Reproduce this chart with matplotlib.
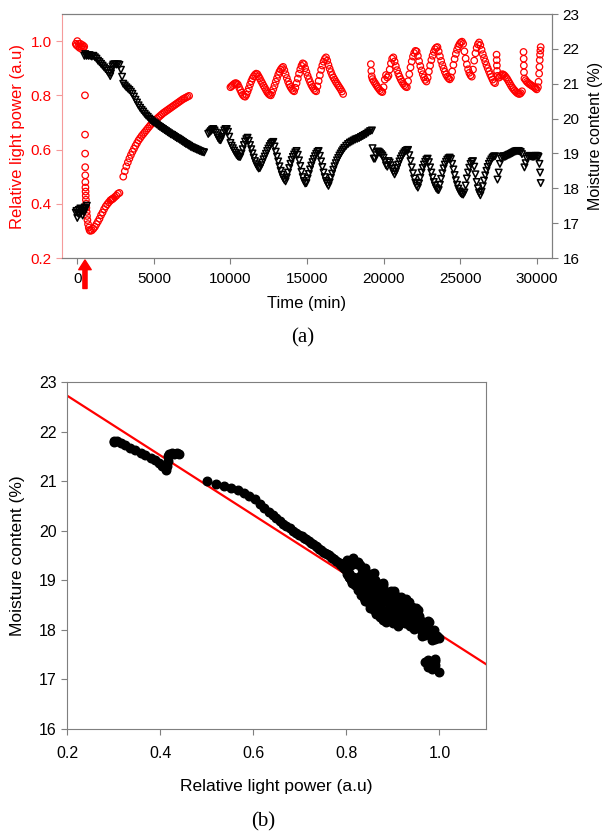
import matplotlib
matplotlib.use("Agg")
import matplotlib.pyplot as plt
import numpy as np

nan = np.nan

# Readings, one block per stretch of the record.
# t_* = time (min), p_* = relative light power (a.u), m_* = moisture content (%)

# before the step change (dry sample)
t_dry = [-100, -50, 0, 50, 100, 150, 200, 250, 300, 350, 400, 450]
p_dry = [0.99, 0.985, 1.00, 0.98, 0.99, 0.975, 0.99, 0.98, 0.97, 0.985, 0.975, 0.98]
m_dry = [17.30, 17.35, 17.15, 17.28, 17.38, 17.25, 17.42, 17.30, 17.35, 17.22, 17.40, 17.32]

# the step (light power drops, moisture jumps)
t_step = [460, 480, 500, 505, 510, 515, 520, 520, 525, 530, 540, 550, 560, 560,
          575, 590, 590, 610, 620, 630, 660, 660, 700, 730, 750, 790, 800]
p_step = [nan, nan, 0.80, 0.655, 0.585, 0.535, 0.505, nan, 0.48, 0.46, 0.445, 0.43, 0.415, nan,
          0.40, 0.385, nan, 0.37, nan, 0.355, 0.34, nan, 0.325, nan, 0.312, nan, 0.303]
m_step = [21.80, 17.45, nan, nan, nan, nan, nan, 21.85, nan, nan, nan, nan, nan, 17.42,
          nan, nan, 21.80, nan, 17.50, nan, nan, 21.82, nan, 21.80, nan, 21.82, nan]

t_wet = [850, 950, 1050, 1150, 1250, 1350, 1450, 1550, 1650, 1750, 1850, 1950,
         2050, 2150, 2200, 2250, 2300, 2350, 2450, 2550, 2650, 2750, 2850, 2925]
p_wet = [0.300, 0.302, 0.308, 0.315, 0.325, 0.335, 0.345, 0.358, 0.368, 0.380, 0.390, 0.398,
         0.405, 0.412, 0.414, 0.416, 0.418, 0.420, 0.425, 0.430, 0.437, 0.440, nan, nan]
m_wet = [21.80, 21.78, 21.80, 21.76, 21.72, 21.66, 21.62, 21.57, 21.52, 21.47, 21.42, 21.37,
         21.30, 21.22, 21.30, 21.40, 21.50, 21.55, 21.56, 21.55, 21.56, 21.54, 21.40, 21.20]

# drying
t_dryout = [3000, 3100, 3200, 3300, 3400, 3500, 3600, 3700, 3800, 3900, 4000,
            4100, 4200, 4300, 4400, 4500, 4600, 4700, 4800, 4900, 5000, 5100,
            5200, 5300, 5400, 5500, 5600, 5700, 5800, 5900, 6000, 6100, 6200,
            6300, 6400, 6500, 6600, 6700, 6800, 6900, 7000, 7100, 7200, 7300]
p_dryout = [0.500, 0.520, 0.538, 0.553, 0.567, 0.580, 0.592, 0.603, 0.614, 0.624, 0.634,
            0.642, 0.650, 0.657, 0.664, 0.671, 0.678, 0.685, 0.692, 0.698, 0.704, 0.709,
            0.714, 0.719, 0.724, 0.729, 0.734, 0.738, 0.742, 0.746, 0.750, 0.754, 0.758,
            0.762, 0.766, 0.770, 0.774, 0.778, 0.782, 0.786, 0.789, 0.792, 0.795, 0.798]
m_dryout = [21.00, 20.95, 20.90, 20.86, 20.82, 20.77, 20.71, 20.63, 20.54, 20.46, 20.38,
            20.31, 20.25, 20.20, 20.14, 20.09, 20.05, 20.00, 19.96, 19.92, 19.89, 19.86,
            19.83, 19.79, 19.76, 19.73, 19.70, 19.67, 19.64, 19.61, 19.58, 19.55, 19.53,
            19.50, 19.47, 19.44, 19.42, 19.39, 19.36, 19.33, 19.30, 19.27, 19.25, 19.22]

# moisture only (no light reading)
t_gap1 = [7400, 7500, 7600, 7700, 7800, 7900, 8000, 8100, 8200, 8280,
          8550, 8640, 8720, 8800, 8880, 8960, 9040, 9120, 9200, 9280,
          9360, 9440, 9520, 9600, 9680, 9760, 9840, 9920]
m_gap1 = [19.19, 19.17, 19.15, 19.13, 19.11, 19.09, 19.07, 19.05, 19.04, 19.03,
          19.56, 19.60, 19.64, 19.68, 19.70, 19.66, 19.60, 19.52, 19.44, 19.39,
          19.38, 19.47, 19.58, 19.66, 19.70, 19.70, 19.62, 19.48]
p_gap1 = [nan] * len(t_gap1)

# first cycling period
t_cyc1 = [10000, 10080, 10160, 10240, 10320, 10400, 10480, 10560, 10640, 10720,
          10800, 10880, 10960, 11040, 11120, 11200, 11280, 11360, 11440, 11520,
          11600, 11680, 11760, 11840, 11920, 12000, 12080, 12160, 12240, 12320,
          12400, 12480, 12560, 12640, 12720, 12800, 12880, 12960, 13040, 13120,
          13200, 13280, 13360, 13440, 13520, 13600, 13680, 13760, 13840, 13920,
          14000, 14080, 14160, 14240, 14320, 14400, 14480, 14560, 14640, 14720,
          14800, 14880, 14960, 15040, 15120, 15200, 15280, 15360, 15440, 15520,
          15600, 15680, 15760, 15840, 15920, 16000, 16080, 16160, 16240, 16320,
          16400, 16480, 16560, 16640, 16720, 16800, 16880, 16960, 17040, 17120,
          17200, 17280, 17360]
p_cyc1 = [0.830, 0.834, 0.838, 0.842, 0.845, 0.844, 0.840, 0.830, 0.820, 0.810,
          0.802, 0.797, 0.795, 0.802, 0.814, 0.826, 0.840, 0.852, 0.862, 0.870,
          0.876, 0.880, 0.878, 0.870, 0.862, 0.853, 0.845, 0.836, 0.828, 0.820,
          0.812, 0.806, 0.802, 0.800, 0.810, 0.823, 0.836, 0.850, 0.863, 0.876,
          0.887, 0.895, 0.901, 0.905, 0.893, 0.878, 0.864, 0.851, 0.840, 0.831,
          0.824, 0.818, 0.815, 0.828, 0.845, 0.862, 0.880, 0.896, 0.909, 0.918,
          0.915, 0.900, 0.886, 0.872, 0.860, 0.849, 0.839, 0.831, 0.824, 0.818,
          0.815, 0.833, 0.853, 0.874, 0.894, 0.910, 0.924, 0.934, 0.940, 0.928,
          0.912, 0.898, 0.886, 0.875, 0.866, 0.858, 0.850, 0.843, 0.836, 0.829,
          0.822, 0.814, 0.805]
m_cyc1 = [19.30, 19.22, 19.15, 19.08, 19.02, 18.96, 18.92, 18.90, 18.90, 19.00,
          19.12, 19.24, 19.34, 19.41, 19.45, 19.36, 19.24, 19.12, 19.00, 18.88,
          18.78, 18.69, 18.62, 18.57, 18.58, 18.66, 18.74, 18.83, 18.91, 18.99,
          19.07, 19.14, 19.21, 19.27, 19.31, 19.33, 19.20, 19.05, 18.91, 18.77,
          18.63, 18.50, 18.39, 18.30, 18.24, 18.20, 18.31, 18.45, 18.58, 18.70,
          18.81, 18.90, 18.97, 19.03, 19.07, 18.96, 18.80, 18.64, 18.47, 18.32,
          18.21, 18.14, 18.15, 18.28, 18.41, 18.54, 18.65, 18.75, 18.84, 18.92,
          18.99, 19.04, 19.07, 18.93, 18.77, 18.61, 18.45, 18.32, 18.21, 18.13,
          18.07, 18.17, 18.30, 18.42, 18.53, 18.63, 18.72, 18.80, 18.87, 18.94,
          19.00, 19.06, 19.11]

# moisture only again
t_gap2 = [17440, 17560, 17680, 17800, 17920, 18040, 18160, 18280, 18400, 18520,
          18640, 18760, 18880, 19000, 19120, 19170, 19200, 19230, 19240]
p_gap2 = [nan] * 15 + [0.915, 0.890, 0.870, nan]
m_gap2 = [19.16, 19.22, 19.27, 19.31, 19.34, 19.37, 19.40, 19.42, 19.44, 19.47,
          19.50, 19.53, 19.56, 19.60, 19.64, nan, nan, nan, 19.66]

# second cycling period
t_cyc2 = [19280, 19360, 19440, 19520, 19600, 19680, 19760, 19840, 19920, 20000,
          20080, 20160, 20240, 20320, 20400, 20480, 20560, 20640, 20720, 20800,
          20880, 20960, 21040, 21120, 21200, 21280, 21360, 21440, 21520, 21600,
          21680, 21760, 21840, 21920, 22000, 22080, 22160, 22240, 22320, 22400,
          22480, 22560, 22640, 22720, 22800, 22880, 22960, 23040, 23120, 23200,
          23280, 23360, 23440, 23520, 23600, 23680, 23760, 23840, 23920, 24000,
          24080, 24160, 24240, 24320, 24400, 24480, 24560, 24640, 24720, 24800,
          24880, 24960, 25040, 25120, 25200, 25280, 25360, 25440, 25520, 25600,
          25680, 25760, 25840, 25920, 26000, 26080, 26160, 26240, 26320, 26400,
          26480, 26560, 26640, 26720, 26800, 26880, 26960, 27040, 27120, 27200,
          27280, 27380, 27390, 27400, 27410, 27440, 27520, 27600, 27680, 27760,
          27840, 27920, 28000, 28080, 28160, 28240, 28320, 28400, 28480, 28560,
          28640, 28720, 28800, 28880, 28960, 29040, 29140, 29150, 29160, 29170,
          29200, 29280, 29360, 29440, 29520, 29600, 29680, 29760, 29840, 29920,
          30000, 30080, 30120, 30160, 30180, 30200, 30220, 30240, 30260]
p_cyc2 = [0.860, 0.852, 0.845, 0.838, 0.831, 0.825, 0.819, 0.814, 0.812, 0.830,
          0.858, 0.875, 0.866, 0.872, 0.895, 0.918, 0.935, 0.940, 0.925, 0.908,
          0.893, 0.880, 0.869, 0.859, 0.851, 0.843, 0.837, 0.832, 0.830, 0.852,
          0.878, 0.903, 0.925, 0.943, 0.956, 0.964, 0.962, 0.945, 0.926, 0.908,
          0.892, 0.878, 0.866, 0.857, 0.851, 0.865, 0.888, 0.910, 0.930, 0.946,
          0.960, 0.970, 0.976, 0.978, 0.962, 0.944, 0.927, 0.912, 0.899, 0.887,
          0.877, 0.869, 0.863, 0.859, 0.866, 0.888, 0.912, 0.934, 0.953, 0.968,
          0.980, 0.989, 0.995, 0.998, 0.990, 0.962, 0.936, 0.914, 0.896, 0.883,
          0.874, 0.869, 0.895, 0.928, 0.955, 0.975, 0.988, 0.995, 0.985, 0.968,
          0.952, 0.938, 0.925, 0.912, 0.900, 0.889, 0.878, 0.868, 0.858, 0.849,
          0.845, 0.950, 0.930, 0.910, 0.890, 0.872, 0.865, 0.868, 0.874, 0.878,
          0.876, 0.872, 0.866, 0.860, 0.852, 0.844, 0.836, 0.829, 0.823, 0.818,
          0.813, 0.809, 0.806, 0.805, 0.808, 0.815, 0.960, 0.935, 0.910, 0.885,
          0.862, 0.856, 0.850, 0.846, 0.842, 0.839, 0.836, 0.833, 0.830, 0.826,
          0.822, 0.830, 0.850, 0.880, 0.905, 0.930, 0.950, 0.965, 0.978]
m_cyc2 = [19.15, 18.85, 18.85, 18.95, 19.05, 19.05, 19.02, 18.98, 18.94, 18.88,
          18.78, 18.66, 18.62, 18.78, 18.74, 18.66, 18.56, 18.47, 18.40, 18.48,
          18.58, 18.68, 18.77, 18.85, 18.92, 18.98, 19.03, 19.07, 19.09, 19.10,
          18.95, 18.78, 18.60, 18.43, 18.28, 18.16, 18.07, 18.02, 18.14, 18.30,
          18.45, 18.58, 18.68, 18.76, 18.82, 18.85, 18.75, 18.60, 18.45, 18.31,
          18.18, 18.08, 18.00, 17.96, 17.95, 18.10, 18.27, 18.43, 18.57, 18.68,
          18.76, 18.82, 18.86, 18.88, 18.84, 18.70, 18.54, 18.38, 18.23, 18.10,
          17.99, 17.91, 17.86, 17.83, 17.82, 17.88, 18.08, 18.28, 18.45, 18.59,
          18.70, 18.76, 18.78, 18.62, 18.40, 18.18, 18.00, 17.87, 17.80, 17.90,
          18.06, 18.22, 18.37, 18.50, 18.61, 18.70, 18.77, 18.83, 18.88, 18.91,
          18.92, nan, nan, nan, nan, 18.25, 18.45, 18.70, 18.85, 18.91,
          18.92, 18.90, 18.92, 18.94, 18.96, 18.97, 18.99, 19.01, 19.03, 19.05,
          19.06, 19.07, 19.07, 19.06, 19.04, 18.98, nan, nan, nan, nan,
          18.60, 18.72, 18.85, 18.91, 18.93, 18.92, 18.91, 18.90, 18.91, 18.93,
          18.93, 18.92, 18.90, nan, 18.70, nan, 18.45, nan, 18.15]

# linear fit drawn in (b)
fit_intercept = 23.93
fit_slope = -6.02

t = np.array(t_dry + t_step + t_wet + t_dryout + t_gap1 + t_cyc1 + t_gap2 + t_cyc2, dtype=float)
p = np.array(p_dry + p_step + p_wet + p_dryout + p_gap1 + p_cyc1 + p_gap2 + p_cyc2, dtype=float)
m = np.array(m_dry + m_step + m_wet + m_dryout + m_gap1 + m_cyc1 + m_gap2 + m_cyc2, dtype=float)

plt.rcParams['font.family'] = ['Liberation Sans', 'DejaVu Sans']
grey = '#7f7f7f'
pink = '#f59a9a'

fig = plt.figure(figsize=(6.05, 8.34), dpi=100)

# (a) light power and moisture against time
ax1 = fig.add_axes([62/605, 1-258/834, 490/605, 244/834])
ax2 = ax1.twinx()

ax1.scatter(t, p, s=22, marker='o', facecolors='none', edgecolors='red', linewidths=0.9, zorder=2)
ax2.scatter(t, m, s=22, marker='v', facecolors='none', edgecolors='black', linewidths=1.1, zorder=3)

ax1.set_xlim(-1000, 31000)
ax1.set_ylim(0.2, 1.1)
ax2.set_ylim(16, 23)
ax1.set_xticks([0, 5000, 10000, 15000, 20000, 25000, 30000])
ax1.set_yticks([0.2, 0.4, 0.6, 0.8, 1.0])
ax2.set_yticks(range(16, 24))

for ax in (ax1, ax2):
    for s in ax.spines.values():
        s.set_color(grey)
ax1.spines['left'].set_color(pink)
ax2.spines['left'].set_visible(False)

ax1.tick_params(axis='x', direction='out', length=4, color=grey, labelsize=11, pad=6)
ax1.tick_params(axis='y', direction='out', length=4, color=pink, labelcolor='red', labelsize=11)
ax2.tick_params(axis='y', direction='out', length=4, color=grey, labelsize=11)
ax1.set_xlabel('Time (min)', fontsize=12, labelpad=7)
ax1.set_ylabel('Relative light power (a.u)', fontsize=12, color='red', labelpad=4)
ax2.set_ylabel('Moisture content (%)', fontsize=11.5, labelpad=6)

# marks the moment water was added
ax1.annotate('', xy=(500, -0.008), xycoords=('data', 'axes fraction'),
             xytext=(500, -0.125), textcoords=('data', 'axes fraction'),
             arrowprops=dict(facecolor='red', edgecolor='red', width=3, headwidth=9,
                             headlength=7, shrink=0), annotation_clip=False)

fig.text(0.5, 1-338/834, '(a)', fontsize=15, family='Liberation Serif', ha='center', va='center')

# (b) moisture against light power
ax3 = fig.add_axes([67/605, 1-729/834, 419/605, 347/834])
ok = ~np.isnan(p) & ~np.isnan(m)
ax3.scatter(p[ok], m[ok], s=38, color='black', zorder=3)
xf = np.array([0.2, 1.1])
ax3.plot(xf, fit_intercept + fit_slope*xf, color='red', lw=1.6, zorder=2)

ax3.set_xlim(0.2, 1.1)
ax3.set_ylim(16, 23)
ax3.set_xticks([0.2, 0.4, 0.6, 0.8, 1.0])
ax3.set_yticks(range(16, 24))
for s in ax3.spines.values():
    s.set_color(grey)
ax3.tick_params(direction='out', length=4, color=grey, labelsize=11.5)
ax3.tick_params(axis='x', pad=8)
ax3.set_xlabel('Relative light power (a.u)', fontsize=12.5, labelpad=13)
ax3.set_ylabel('Moisture content (%)', fontsize=12.5, labelpad=10)

fig.text(263/605, 1-822/834, '(b)', fontsize=15, family='Liberation Serif', ha='center', va='center')

fig.savefig('out.png', dpi=100)
